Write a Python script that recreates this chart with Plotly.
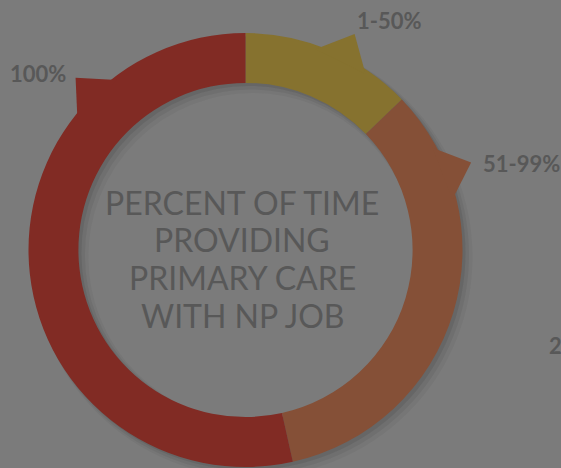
import math
import plotly.graph_objects as go

# data
labels = ["1-50%", "51-99%", "100%"]
shares = [12.8, 33.7, 53.5]
colors = ["#86722f", "#855037", "#812b24"]
center_lines = ["PERCENT OF TIME", "PROVIDING", "PRIMARY CARE", "WITH NP JOB"]

W, H = 561, 468
BG = "#7b7b7b"
TEXT = "#585858"

# ring geometry in pixels
cx, cy, R = 245.5, 250, 217
hole = 0.77

fig = go.Figure()

fig.add_trace(go.Pie(
    labels=labels, values=shares, sort=False, direction="clockwise", hole=hole,
    marker=dict(colors=colors, line=dict(width=0)),
    textinfo="none", showlegend=False,
    domain=dict(x=[(cx - R) / W, (cx + R) / W],
                y=[max(0, 1 - (cy + R) / H), 1 - (cy - R) / H]),
))

# soft drop shadow: offset ring outlines drawn under the pie
rm = R * (1 + hole) / 2
thick = R * (1 - hole)
for off, a, extra in [(7, 0.05, 6), (5, 0.07, 3), (3, 0.10, 0)]:
    fig.add_shape(
        type="circle", xref="paper", yref="paper", layer="below",
        x0=(cx + off - rm) / W, x1=(cx + off + rm) / W,
        y0=1 - (cy + off + rm) / H, y1=1 - (cy + off - rm) / H,
        line=dict(color="rgba(30,30,30,%s)" % a, width=thick + extra),
    )

# pointer notches on the outer edge (angle clockwise from 12 o'clock)
pointers = [(26.8, colors[0]), (68.8, colors[1]), (-44.6, colors[2])]


def pt(ang, r):
    a = math.radians(ang)
    x = cx + r * math.sin(a)
    y = cy - r * math.cos(a)
    return x / W, 1 - y / H


for ang, col in pointers:
    p1 = pt(ang - 7.5, R - 4)
    p2 = pt(ang, R + 25)
    p3 = pt(ang + 7.5, R - 4)
    path = "M %f %f L %f %f L %f %f Z" % (p1[0], p1[1], p2[0], p2[1], p3[0], p3[1])
    fig.add_shape(type="path", path=path, xref="paper", yref="paper",
                  fillcolor=col, line=dict(width=0), layer="above")

lab_font = dict(family="Lato", size=22, color=TEXT)
for txt, x, y in [("1-50%", 355, 21), ("51-99%", 481, 163),
                  ("100%", 8, 73), ("2", 547, 345)]:
    fig.add_annotation(text="<b>%s</b>" % txt, x=x / W, y=1 - y / H,
                       xanchor="left", yanchor="middle", showarrow=False,
                       font=lab_font)

for line, y in zip(center_lines, [202, 240, 277, 315]):
    fig.add_annotation(
        text=line, x=242 / W, y=1 - y / H, xanchor="center", yanchor="middle",
        showarrow=False, font=dict(family="Lato", size=32, color=TEXT),
    )

fig.update_layout(
    width=W, height=H, margin=dict(l=0, r=0, t=0, b=0),
    paper_bgcolor=BG, plot_bgcolor=BG,
)
fig.write_html("out.html", config={"displayModeBar": False},
               post_script="document.body.style.margin='0';")
